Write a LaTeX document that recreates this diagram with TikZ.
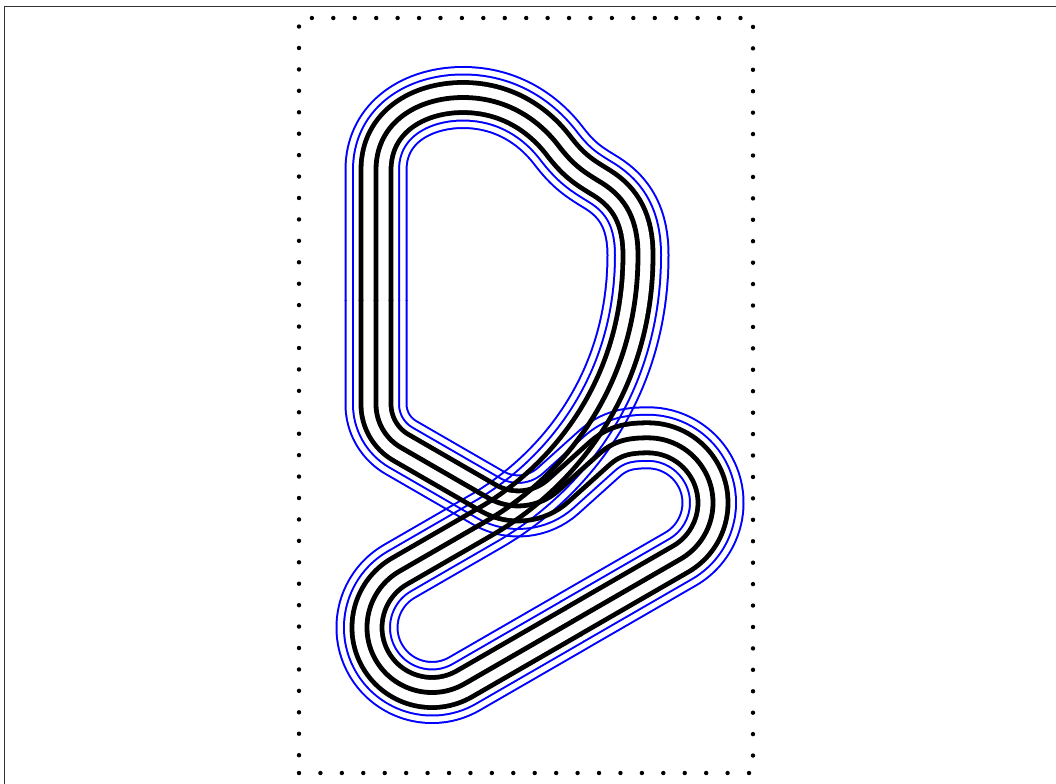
\documentclass[tikz,border=0pt]{standalone}
\usetikzlibrary{calc}
\definecolor{bleuV}{RGB}{0,0,255}
\definecolor{cadreC}{RGB}{50,50,50}
\tikzset{
  cadre/.style={draw=cadreC, line width=0.7pt},
  pointilles/.style={draw=black, line width=2.2pt, line cap=round, dash pattern=on 0pt off 10.715pt},
  voie/.style={line width=#1, line cap=butt, line join=round},
}
% une moitie de la piste : couches superposees, fusionnees en multiply
% #1 = zone coupee au raccord, #2 = chemin
\newcommand{\piste}[2]{%
  \begin{scope}[even odd rule]
    \clip (0,0) rectangle (1056,783) #1;
    \begin{scope}[blend mode=multiply]
      \begin{scope}[transparency group]
        \draw[voie=31.5pt, bleuV] #2;
        \draw[voie=29.5pt, white] #2;
        \draw[voie=24pt, bleuV] #2;
        \draw[voie=22pt, white] #2;
        \draw[voie=17.4pt, black] #2;
        \draw[voie=12.6pt, white] #2;
        \draw[voie=2.4pt, black] #2;
      \end{scope}
    \end{scope}
  \end{scope}}

\begin{document}
\begin{tikzpicture}[x=0.5pt, y=-0.5pt]
  \useasboundingbox (0,0) rectangle (1056,783);
  \draw[cadre] (4.3,800) -- (4.3,6.7) -- (1070,6.7);
  \draw[pointilles] (299,773) -- (753,773) -- (753,18) -- (299,18) -- cycle;
  % boucle haute (D) puis bas de la capsule
  \piste{(330,300) rectangle (425,340)
         (552.5,586.8) -- (592.5,656.1) -- (618.5,641.1) -- (578.5,571.8) -- cycle}
   {(376,320) -- (376,170) .. controls (376,122) and (418,97.5) .. (463,97.5)
    .. controls (505,97.5) and (537,118) .. (558,145)
    .. controls (574,166) and (584,172) .. (602,183)
    .. controls (626,198) and (638,220) .. (638,255)
    .. controls (638,390) and (559.7,478.7) .. (486.1,521.2)
    -- (399.5,571.2) arc[start angle=240, end angle=60, radius=65]
    -- (589.8,611.5)}
  % capsule, bout droit, puis bas de la boucle D
  \piste{(330,260) rectangle (425,300)
         (552.5,586.8) -- (592.5,656.1) -- (566.5,671.1) -- (526.5,601.8) -- cycle}
   {(555.2,631.4) -- (680.5,559.1) arc[start angle=60, end angle=-90, radius=65]
    .. controls (628,437.8) and (613.9,440.6) .. (599,454)
    -- (558.4,490.5)
    .. controls (539.1,507.9) and (510.7,510.9) .. (488.2,497.9)
    -- (401,447.55) .. controls (385.5,438.6) and (376,422.1) .. (376,404.2)
    -- (376,280)}
\end{tikzpicture}
\end{document}
